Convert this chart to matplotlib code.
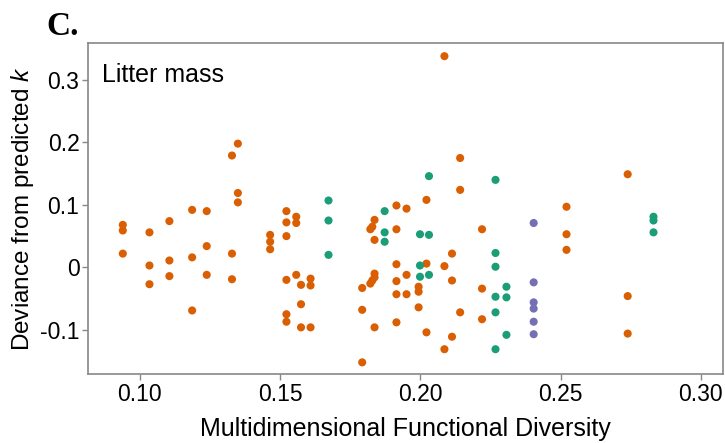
import matplotlib
matplotlib.use("Agg")
import matplotlib.pyplot as plt

plt.rcParams['font.family'] = ['Liberation Sans', 'DejaVu Sans']
plt.rcParams['mathtext.fontset'] = 'custom'
plt.rcParams['mathtext.it'] = 'Liberation Sans:italic'
plt.rcParams['mathtext.rm'] = 'Liberation Sans'

# orange group (x, y)
orange_x = [0.094, 0.094, 0.094,
            0.1035, 0.1035, 0.1035,
            0.1106, 0.1106, 0.1106,
            0.1187, 0.1187, 0.1187,
            0.1239, 0.1239, 0.1239,
            0.1329, 0.1329, 0.1329,
            0.135, 0.135, 0.135,
            0.1465, 0.1465, 0.1465,
            0.1523, 0.1523, 0.1523, 0.1523, 0.1523, 0.1523,
            0.1558, 0.1558, 0.1558,
            0.1575, 0.1575, 0.1575,
            0.1609, 0.1609, 0.1609,
            0.1837, 0.1837, 0.1837, 0.1837, 0.1837,
            0.1829, 0.1829,
            0.1822, 0.1822,
            0.1793, 0.1793, 0.1793,
            0.1915, 0.1915, 0.1915, 0.1915, 0.1915, 0.1915,
            0.1951, 0.1951, 0.1951,
            0.1994, 0.1994, 0.1994,
            0.2022, 0.2022, 0.2022,
            0.2086, 0.2086, 0.2086,
            0.2113, 0.2113, 0.2113,
            0.2142, 0.2142, 0.2142,
            0.222, 0.222, 0.222,
            0.2521, 0.2521, 0.2521,
            0.2739, 0.2739, 0.2739]
orange_y = [0.068, 0.059, 0.022,
            0.056, 0.003, -0.027,
            0.074, 0.011, -0.014,
            0.092, 0.016, -0.069,
            0.090, 0.034, -0.012,
            0.179, 0.022, -0.019,
            0.198, 0.119, 0.104,
            0.052, 0.041, 0.029,
            0.090, 0.072, 0.050, -0.020, -0.075, -0.087,
            0.081, 0.071, -0.012,
            -0.028, -0.059, -0.096,
            -0.018, -0.029, -0.096,
            0.076, 0.044, -0.010, -0.016, -0.096,
            0.065, -0.021,
            0.061, -0.026,
            -0.033, -0.068, -0.152,
            0.099, 0.061, 0.005, -0.022, -0.043, -0.088,
            0.094, -0.012, -0.043,
            -0.031, -0.039, -0.064,
            0.108, 0.006, -0.104,
            0.338, 0.002, -0.131,
            0.022, -0.021, -0.111,
            0.175, 0.124, -0.072,
            0.061, -0.034, -0.083,
            0.097, 0.053, 0.028,
            0.149, -0.046, -0.106]

# green group
green_x = [0.1673, 0.1673, 0.1673,
           0.1873, 0.1873, 0.1873,
           0.1999, 0.1999, 0.1999,
           0.2031, 0.2031, 0.2031,
           0.2268, 0.2268, 0.2268, 0.2268, 0.2268, 0.2268,
           0.2307, 0.2307, 0.2307,
           0.2831, 0.2831, 0.2831]
green_y = [0.107, 0.075, 0.020,
           0.090, 0.056, 0.041,
           0.053, 0.003, -0.015,
           0.146, 0.052, -0.012,
           0.140, 0.023, 0.001, -0.047, -0.072, -0.131,
           -0.031, -0.048, -0.108,
           0.081, 0.075, 0.056]

# purple group
purple_x = [0.2404, 0.2404, 0.2404, 0.2404, 0.2404, 0.2404]
purple_y = [0.071, -0.024, -0.056, -0.066, -0.087, -0.107]

fig = plt.figure(figsize=(7.25, 4.43), dpi=100)
ax = fig.add_axes([0.121, 0.155, 0.876, 0.747])

ax.scatter(orange_x, orange_y, s=34, color='#D95F02', edgecolors='none', zorder=3)
ax.scatter(green_x, green_y, s=34, color='#1B9E77', edgecolors='none', zorder=3)
ax.scatter(purple_x, purple_y, s=34, color='#7570B3', edgecolors='none', zorder=3)

ax.set_xlim(0.0815, 0.3078)
ax.set_ylim(-0.1712, 0.3584)
ax.set_xticks([0.10, 0.15, 0.20, 0.25, 0.30])
ax.set_xticklabels(['0.10', '0.15', '0.20', '0.25', '0.30'])
ax.set_yticks([-0.1, 0, 0.1, 0.2, 0.3])
ax.set_yticklabels(['-0.1', '0', '0.1', '0.2', '0.3'])

for sp in ax.spines.values():
    sp.set_color('#888888')
    sp.set_linewidth(1.2)
ax.tick_params(direction='out', length=4, width=1, color='#888888',
               labelsize=16.5, pad=2)

ax.set_xlabel('Multidimensional Functional Diversity', fontsize=18, labelpad=8)
ax.set_ylabel('Deviance from predicted $k$', fontsize=17.5, labelpad=3)

ax.text(0.022, 0.94, 'Litter mass', transform=ax.transAxes, fontsize=18,
        ha='left', va='top')
fig.text(0.064, 0.975, 'C.', fontsize=24, fontweight='bold',
         family='Liberation Serif', ha='left', va='top')

fig.savefig('out.png', dpi=100)
